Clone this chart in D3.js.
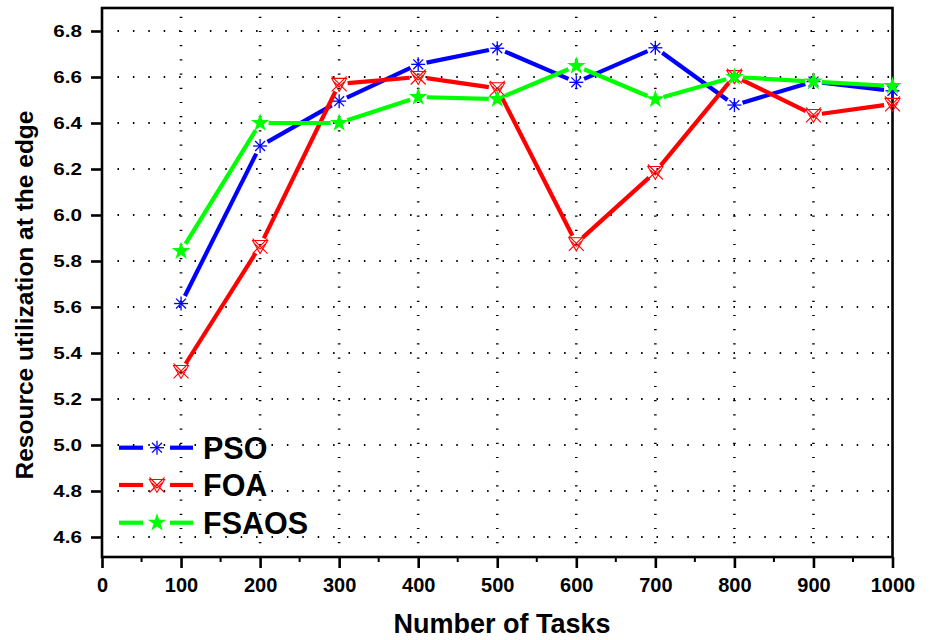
<!DOCTYPE html>
<html><head><meta charset="utf-8">
<script src="https://cdn.jsdelivr.net/npm/d3@7"></script>
<style>body{margin:0;background:#fff}svg{display:block}text{font-family:"Liberation Sans",Arial,sans-serif;font-weight:bold}</style>
</head><body><svg id="c" width="932" height="640"></svg>
<script>
const tasks = [100,200,300,400,500,600,700,800,900,1000];
const pso   = [5.615,6.30,6.495,6.655,6.725,6.577,6.727,6.478,6.58,6.54];
const foa   = [5.322,5.865,6.57,6.60,6.551,5.877,6.187,6.604,6.435,6.483];
const fsaos = [5.843,6.40,6.40,6.513,6.504,6.648,6.503,6.60,6.58,6.561];
const seriesNames = ["PSO","FOA","FSAOS"];
const seriesColors = ["#0000ff","#ff0000","#00ff00"];
const xTicks = [0,100,200,300,400,500,600,700,800,900,1000];
const xMinor = [50,150,250,350,450,550,650,750,850,950];
const yTicks = [4.6,4.8,5.0,5.2,5.4,5.6,5.8,6.0,6.2,6.4,6.6,6.8];

const svg = d3.select("#c");
const x = d3.scaleLinear().domain([0,1000]).range([102,892.5]);
const y = d3.scaleLinear().domain([4.513,6.9]).range([557,8]);
const L = x(0), R = x(1000), T = y(6.9), B = y(4.513);

// grid
const g = svg.append("g");
g.selectAll(".hg").data(yTicks).join("line")
  .attr("x1",L+15.5).attr("x2",R).attr("y1",d=>y(d)).attr("y2",d=>y(d))
  .attr("stroke","#000").attr("stroke-width",2).attr("stroke-dasharray","1.5,13.9");
g.selectAll(".vg").data(xTicks.filter(d=>d>0&&d<1000)).join("line")
  .attr("x1",d=>x(d)).attr("x2",d=>x(d)).attr("y1",T+8.7).attr("y2",B)
  .attr("stroke","#000").attr("stroke-width",2.6).attr("stroke-dasharray","1.2,13");

// frame
svg.append("rect").attr("x",L).attr("y",T).attr("width",R-L).attr("height",B-T)
  .attr("fill","none").attr("stroke","#000").attr("stroke-width",2.6);

// x axis
const xa = svg.append("g").attr("transform",`translate(0,${B})`)
  .call(d3.axisBottom(x).tickValues(xTicks).tickSize(11).tickPadding(10).tickFormat(d3.format("d")));
xa.select(".domain").remove();
xa.selectAll(".tick line").attr("stroke-width",2.6);
xa.selectAll("text").attr("font-size",20).attr("dy","0.71em").attr("fill","#000");
svg.append("g").selectAll("line").data(xMinor).join("line")
  .attr("x1",d=>x(d)).attr("x2",d=>x(d)).attr("y1",B).attr("y2",B+5)
  .attr("stroke","#000").attr("stroke-width",2);

// y axis
const ya = svg.append("g").attr("transform",`translate(${L},0)`)
  .call(d3.axisLeft(y).tickValues(yTicks).tickSize(11).tickFormat(""));
ya.select(".domain").remove();
ya.selectAll(".tick line").attr("stroke-width",2.6);
svg.append("g").selectAll("text").data(yTicks).join("text")
  .attr("transform",d=>`translate(82,${y(d)+5.8}) scale(1.25,1)`)
  .attr("text-anchor","end").attr("font-size",16.5).text(d=>d3.format(".1f")(d));

// titles
svg.append("text").attr("x",502).attr("y",633).attr("text-anchor","middle")
  .attr("font-size",27).text("Number of Tasks");
svg.append("text").attr("transform","translate(33,295) rotate(-90)").attr("text-anchor","middle")
  .attr("font-size",24.5).text("Resource utilization at the edge");

// markers
function drawMarker(sel, type, color){
  if(type===0){
    for(let a=0;a<4;a++){
      const ang=a*Math.PI/4, r=7;
      sel.append("line").attr("x1",-r*Math.cos(ang)).attr("y1",-r*Math.sin(ang))
        .attr("x2",r*Math.cos(ang)).attr("y2",r*Math.sin(ang))
        .attr("stroke",color).attr("stroke-width",1.3);
    }
  } else if(type===1){
    sel.append("path").attr("d","M-7.5,-5.5L7.5,-5.5L0,7.5Z").attr("fill","none").attr("stroke",color).attr("stroke-width",1.1);
    sel.append("path").attr("d","M-7.5,-7.5L7.5,7.5M7.5,-7.5L-7.5,7.5").attr("fill","none").attr("stroke",color).attr("stroke-width",1.1);
    sel.append("path").attr("d","M-5,-2L0,3L5,-2").attr("fill","none").attr("stroke",color).attr("stroke-width",1.1);
  } else {
    sel.append("path").attr("d",d3.symbol().type(d3.symbolStar).size(105)()).attr("fill",color);
  }
}

const data = [pso,foa,fsaos];
const gap = 8.5;
function gappedSegments(pts){
  const segs=[];
  for(let i=0;i<pts.length-1;i++){
    const [x1,y1]=pts[i],[x2,y2]=pts[i+1];
    const dx=x2-x1, dy=y2-y1, len=Math.hypot(dx,dy);
    if(len<=2*gap) continue;
    const ux=dx/len, uy=dy/len;
    segs.push([x1+ux*gap,y1+uy*gap,x2-ux*gap,y2-uy*gap]);
  }
  return segs;
}
data.forEach((vals,si)=>{
  const col=seriesColors[si];
  const pts=tasks.map((t,i)=>[x(t),y(vals[i])]);
  const sg=svg.append("g");
  sg.selectAll("line").data(gappedSegments(pts)).join("line")
    .attr("x1",d=>d[0]).attr("y1",d=>d[1]).attr("x2",d=>d[2]).attr("y2",d=>d[3])
    .attr("stroke",col).attr("stroke-width",4.2);
  pts.forEach(p=>drawMarker(sg.append("g").attr("transform",`translate(${p[0]},${p[1]})`),si,col));
});

// legend
const legY=[447.7,485,522.7];
seriesNames.forEach((n,i)=>{
  const col=seriesColors[i];
  const lg=svg.append("g");
  lg.append("line").attr("x1",119).attr("x2",143).attr("y1",legY[i]).attr("y2",legY[i]).attr("stroke",col).attr("stroke-width",4.2);
  lg.append("line").attr("x1",170).attr("x2",193).attr("y1",legY[i]).attr("y2",legY[i]).attr("stroke",col).attr("stroke-width",4.2);
  drawMarker(lg.append("g").attr("transform",`translate(157,${legY[i]})`),i,col);
  lg.append("text").attr("x",203).attr("y",legY[i]+10.8).attr("font-size",30.5).text(n);
});
</script></body></html>
